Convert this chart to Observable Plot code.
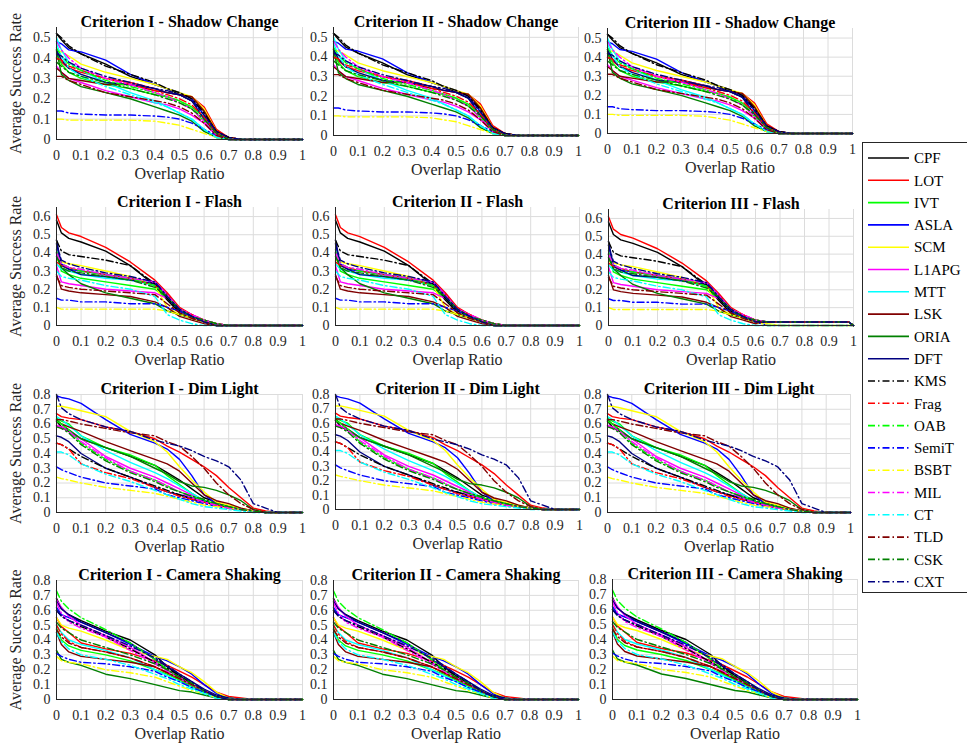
<!DOCTYPE html>
<html><head><meta charset="utf-8">
<script src="https://cdn.jsdelivr.net/npm/d3@7"></script>
<script src="https://cdn.jsdelivr.net/npm/@observablehq/plot@0.6"></script>
<style>
body{margin:0;background:#fff;overflow:hidden}
#chart{position:relative;width:967px;height:747px;overflow:hidden;background:#fff;font-family:"Liberation Serif",serif}
#chart svg text{font-family:"Liberation Serif",serif}
#legend{position:absolute;left:862px;top:142px;width:120px;height:451px;border:1px solid #262626;background:#fff;box-sizing:border-box}
</style></head><body><div id="chart"></div>
<script>
// ---------- data ----------
const trackers = ["CPF","LOT","IVT","ASLA","SCM","L1APG","MTT","LSK","ORIA","DFT",
                  "KMS","Frag","OAB","SemiT","BSBT","MIL","CT","TLD","CSK","CXT"];
const trackerColors = ["#000000","#ff0000","#00ff00","#0000ff","#ffff00","#ff00ff","#00ffff","#800000","#008000","#000080",
                       "#000000","#ff0000","#00ff00","#0000ff","#ffff00","#ff00ff","#00ffff","#800000","#008000","#000080"];
const dashDot = [false,false,false,false,false,false,false,false,false,false,
                 true,true,true,true,true,true,true,true,true,true];
const overlapX = [0,0.02,0.05,0.1,0.2,0.3,0.4,0.45,0.5,0.55,0.6,0.65,0.7,0.75,0.8,0.85,0.9,1];
const scenarios = ["Shadow Change","Flash","Dim Light","Camera Shaking"];
const criteria = ["I","II","III"];
const xTicks = [0,0.1,0.2,0.3,0.4,0.5,0.6,0.7,0.8,0.9,1];
const yTicksShadow = [0,0.1,0.2,0.3,0.4,0.5];
const yTicksFlash = [0,0.1,0.2,0.3,0.4,0.5,0.6];
const yTicksDim = [0,0.1,0.2,0.3,0.4,0.5,0.6,0.7,0.8];
const yTicksShake = [0,0.1,0.2,0.3,0.4,0.5,0.6,0.7,0.8];
const yMax = [0.55,0.65,0.8,0.8];

const shadowChange = [
 [.52,.49,.45,.42,.37,.31,.27,.25,.22,.19,.14,.04,.01,0,0,0,0,0],
 [.40,.38,.35,.33,.30,.28,.25,.23,.22,.21,.16,.05,.01,0,0,0,0,0],
 [.43,.37,.33,.30,.27,.25,.22,.21,.19,.16,.11,.03,0,0,0,0,0,0],
 [.48,.47,.44,.43,.39,.32,.27,.25,.23,.20,.12,.03,0,0,0,0,0,0],
 [.44,.43,.41,.37,.33,.30,.27,.25,.23,.21,.15,.04,0,0,0,0,0,0],
 [.36,.33,.30,.28,.24,.21,.18,.17,.15,.12,.08,.02,0,0,0,0,0,0],
 [.50,.44,.38,.34,.28,.23,.19,.16,.13,.10,.05,.01,0,0,0,0,0,0],
 [.35,.33,.30,.29,.27,.27,.24,.23,.22,.21,.14,.04,.01,0,0,0,0,0],
 [.44,.32,.29,.26,.23,.20,.16,.14,.12,.09,.04,.01,0,0,0,0,0,0],
 [.44,.39,.35,.32,.28,.27,.25,.23,.22,.19,.10,.03,0,0,0,0,0,0],
 [.52,.50,.46,.42,.36,.32,.28,.25,.23,.20,.13,.04,.01,0,0,0,0,0],
 [.40,.39,.36,.34,.30,.27,.24,.22,.20,.17,.11,.03,0,0,0,0,0,0],
 [.45,.41,.37,.34,.29,.26,.23,.21,.19,.15,.09,.02,0,0,0,0,0,0],
 [.14,.14,.13,.125,.12,.12,.115,.11,.10,.08,.05,.02,0,0,0,0,0,0],
 [.10,.10,.095,.095,.095,.095,.09,.08,.07,.05,.03,.01,0,0,0,0,0,0],
 [.48,.44,.40,.35,.30,.27,.23,.21,.18,.15,.09,.02,0,0,0,0,0,0],
 [.47,.41,.35,.31,.26,.22,.18,.16,.13,.10,.05,.01,0,0,0,0,0,0],
 [.31,.31,.29,.27,.23,.21,.19,.18,.16,.13,.08,.02,0,0,0,0,0,0],
 [.38,.36,.33,.31,.28,.25,.22,.20,.18,.15,.10,.03,0,0,0,0,0,0],
 [.42,.41,.38,.35,.31,.28,.25,.24,.22,.19,.12,.04,.01,0,0,0,0,0]
];
const flash = [
 [.58,.51,.48,.46,.41,.33,.22,.14,.07,.04,.02,0,0,0,0,0,0,0],
 [.61,.54,.51,.49,.43,.35,.25,.18,.10,.06,.03,.01,0,0,0,0,0,0],
 [.42,.30,.28,.26,.24,.22,.20,.15,.08,.05,.03,.01,0,0,0,0,0,0],
 [.45,.34,.31,.30,.28,.26,.24,.17,.09,.05,.03,.01,0,0,0,0,0,0],
 [.36,.35,.34,.33,.30,.27,.22,.10,.06,.05,.03,.01,0,0,0,0,0,0],
 [.33,.24,.23,.22,.20,.19,.18,.15,.09,.06,.03,.01,0,0,0,0,0,0],
 [.34,.31,.30,.28,.26,.25,.22,.16,.08,.05,.02,0,0,0,0,0,0,0],
 [.28,.20,.19,.18,.17,.16,.13,.10,.05,.03,.01,0,0,0,0,0,0,0],
 [.40,.32,.28,.23,.18,.15,.12,.08,.06,.04,.02,0,0,0,0,0,0,0],
 [.47,.33,.31,.28,.27,.25,.23,.15,.08,.05,.02,0,0,0,0,0,0,0],
 [.47,.41,.39,.38,.36,.33,.23,.15,.08,.05,.02,0,0,0,0,0,0,0],
 [.35,.33,.32,.30,.28,.26,.22,.17,.09,.06,.03,.01,0,0,0,0,0,0],
 [.40,.34,.32,.30,.28,.26,.22,.16,.09,.05,.03,.01,0,0,0,0,0,0],
 [.15,.14,.14,.13,.13,.12,.12,.10,.08,.05,.02,0,0,0,0,0,0,0],
 [.10,.09,.09,.09,.09,.09,.09,.08,.06,.04,.02,0,0,0,0,0,0,0],
 [.40,.34,.32,.31,.28,.26,.24,.17,.09,.06,.03,.01,0,0,0,0,0,0],
 [.30,.27,.26,.25,.22,.20,.16,.06,.03,.01,0,0,0,0,0,0,0,0],
 [.27,.22,.21,.20,.19,.18,.17,.12,.07,.04,.02,0,0,0,0,0,0,0],
 [.38,.32,.30,.29,.27,.25,.21,.16,.09,.05,.03,.01,0,0,0,0,0,0],
 [.45,.36,.34,.32,.29,.27,.24,.16,.09,.05,.02,0,0,0,0,0,0,0]
];
// Criterion III - Flash: plateau level kept up to ~0.98
const flashTailIII = [.02,.02,.02,.02,0,.02,.02,.02,.02,.02,.02,.02,.02,0,0,.02,0,.02,.02,.02];
const dimLight = [
 [.62,.58,.55,.50,.44,.38,.32,.27,.22,.16,.10,.07,.04,.02,.01,0,0,0],
 [.67,.65,.64,.63,.58,.55,.50,.45,.41,.36,.31,.25,.17,.10,.03,.01,0,0],
 [.64,.62,.60,.52,.44,.39,.32,.25,.19,.13,.08,.05,.03,.02,.01,0,0,0],
 [.79,.78,.77,.74,.63,.53,.47,.43,.36,.25,.12,.06,.04,.02,.01,0,0,0],
 [.72,.72,.71,.69,.65,.55,.48,.41,.31,.22,.14,.07,.05,.03,.01,0,0,0],
 [.59,.58,.56,.50,.38,.30,.24,.20,.16,.12,.08,.05,.03,.02,.01,0,0,0],
 [.65,.63,.59,.52,.42,.34,.27,.23,.18,.13,.08,.05,.03,.02,.01,0,0,0],
 [.62,.60,.58,.55,.48,.42,.36,.33,.28,.20,.12,.08,.06,.03,.01,0,0,0],
 [.63,.60,.56,.50,.44,.38,.30,.26,.21,.18,.17,.15,.12,.08,.02,0,0,0],
 [.52,.51,.48,.40,.30,.24,.17,.14,.12,.10,.08,.05,.03,.02,.01,0,0,0],
 [.47,.46,.43,.38,.30,.24,.18,.15,.12,.09,.07,.05,.03,.02,.01,0,0,0],
 [.47,.46,.43,.33,.27,.23,.17,.14,.11,.09,.07,.05,.03,.02,.01,0,0,0],
 [.62,.60,.56,.47,.36,.28,.22,.18,.14,.11,.08,.06,.04,.02,.01,0,0,0],
 [.31,.29,.27,.24,.20,.18,.16,.12,.10,.08,.06,.04,.03,.02,.01,0,0,0],
 [.24,.23,.22,.20,.17,.15,.13,.11,.09,.07,.05,.04,.03,.02,.01,0,0,0],
 [.59,.57,.55,.48,.37,.28,.22,.18,.14,.10,.07,.05,.03,.02,.01,0,0,0],
 [.41,.41,.39,.33,.26,.21,.15,.12,.09,.06,.04,.03,.02,.01,0,0,0,0],
 [.63,.63,.62,.60,.57,.54,.52,.48,.45,.38,.30,.20,.12,.06,.02,0,0,0],
 [.58,.57,.54,.46,.35,.27,.21,.17,.14,.11,.09,.06,.04,.02,.01,0,0,0],
 [.80,.71,.67,.63,.58,.55,.49,.47,.45,.42,.38,.35,.31,.22,.06,.03,0,0]
];
const cameraShaking = [
 [.68,.61,.57,.53,.46,.40,.30,.22,.16,.10,.05,.02,.01,0,0,0,0,0],
 [.55,.49,.45,.38,.34,.31,.26,.23,.19,.15,.10,.05,.02,.01,0,0,0,0],
 [.48,.40,.36,.33,.30,.26,.20,.17,.13,.09,.05,.02,.01,0,0,0,0,0],
 [.62,.57,.55,.52,.45,.37,.29,.26,.22,.17,.10,.04,.01,0,0,0,0,0],
 [.55,.50,.48,.46,.40,.33,.29,.27,.22,.18,.12,.05,.01,0,0,0,0,0],
 [.67,.62,.56,.50,.43,.35,.25,.20,.15,.10,.06,.02,0,0,0,0,0,0],
 [.50,.45,.40,.37,.33,.28,.20,.16,.12,.08,.04,.01,0,0,0,0,0,0],
 [.45,.37,.32,.29,.27,.25,.22,.18,.14,.10,.06,.02,0,0,0,0,0,0],
 [.33,.27,.25,.23,.17,.14,.10,.08,.06,.05,.03,.01,0,0,0,0,0,0],
 [.66,.61,.57,.52,.45,.38,.27,.22,.17,.12,.07,.03,.01,0,0,0,0,0],
 [.60,.56,.53,.49,.42,.34,.25,.21,.16,.11,.06,.02,0,0,0,0,0,0],
 [.50,.44,.39,.35,.32,.28,.22,.18,.14,.10,.06,.02,0,0,0,0,0,0],
 [.73,.66,.61,.55,.47,.38,.27,.20,.14,.10,.05,.02,0,0,0,0,0,0],
 [.31,.29,.27,.25,.24,.22,.19,.15,.12,.08,.05,.02,0,0,0,0,0,0],
 [.29,.26,.25,.24,.20,.18,.15,.12,.09,.06,.04,.01,0,0,0,0,0,0],
 [.65,.58,.52,.48,.42,.33,.24,.19,.14,.10,.06,.02,0,0,0,0,0,0],
 [.45,.39,.34,.30,.27,.23,.17,.14,.10,.07,.04,.01,0,0,0,0,0,0],
 [.47,.42,.38,.35,.32,.28,.22,.18,.14,.10,.06,.02,0,0,0,0,0,0],
 [.52,.48,.45,.40,.35,.30,.24,.20,.15,.11,.06,.02,0,0,0,0,0,0],
 [.60,.56,.53,.50,.43,.36,.28,.23,.17,.12,.06,.02,0,0,0,0,0,0]
];

// ---------- layout ----------
const panelLeft  = [[56,333,607],[56,335,608],[56,335,607],[56,333,612]];
const panelRight = [[302,578,852],[302,579,853],[302,579,850],[302,578,857]];
const panelTop   = [[27,27,28],[207,207,209],[394,394,394],[580,580,579]];
const panelBot   = [[139,135,133],[325,325,325],[512,509,512],[699,699,699]];
const ML = 56, MR = 14, MT = 30, MB = 48;
const DASH = "7,3,1.5,3";
const INK = "#262626";
const FONT = "Liberation Serif, Times New Roman, serif";

const chart = document.getElementById("chart");
const datasets = [shadowChange, flash, dimLight, cameraShaking];
const yTicksAll = [yTicksShadow, yTicksFlash, yTicksDim, yTicksShake];
const fmt = d => String(+d.toFixed(2));

scenarios.forEach((scen, r) => {
  criteria.forEach((crit, c) => {
    const L = panelLeft[r][c], R = panelRight[r][c], T = panelTop[r][c], B = panelBot[r][c];
    const marks = [
      Plot.gridX(xTicks, {stroke: "#dcdcdc", strokeOpacity: 1, strokeWidth: 1}),
      Plot.gridY(yTicksAll[r], {stroke: "#dcdcdc", strokeOpacity: 1, strokeWidth: 1})
    ];
    trackers.forEach((t, i) => {
      let pts = overlapX.map((x, j) => ({x, y: datasets[r][i][j]}));
      if (r === 1 && c === 2) {
        const tail = flashTailIII[i];
        pts = pts.filter(p => p.x < 1).map(p => ({x: p.x, y: p.x >= 0.65 ? Math.max(p.y, tail) : p.y}));
        pts.push({x: 0.98, y: tail}, {x: 1, y: 0});
      }
      marks.push(Plot.line(pts, {x: "x", y: "y", stroke: trackerColors[i], strokeWidth: 1.4,
        strokeDasharray: dashDot[i] ? DASH : null, strokeLinejoin: "round"}));
    });
    marks.push(
      Plot.ruleX([0], {stroke: INK, strokeWidth: 1}),
      Plot.ruleY([0], {stroke: INK, strokeWidth: 1}),
      Plot.axisX(xTicks, {tickSize: 0, tickPadding: 11, tickFormat: fmt, fontSize: 14, fontFamily: FONT, fill: INK, label: null}),
      Plot.axisY(yTicksAll[r], {tickSize: 0, tickPadding: 6, tickFormat: fmt, fontSize: 14, fontFamily: FONT, fill: INK, label: null}),
      Plot.text([`Criterion ${crit} - ${scen}`], {frameAnchor: "top", dy: -12, fontSize: 16, fontWeight: "bold", fontFamily: FONT, fill: "#000"}),
      Plot.text(["Overlap Ratio"], {frameAnchor: "bottom", dy: 39, fontSize: 16, fontFamily: FONT, fill: INK})
    );
    if (c === 0) {
      marks.push(Plot.text(["Average Success Rate"], {frameAnchor: "left", dx: -41, rotate: -90, textAnchor: "middle",
        fontSize: 16, fontFamily: FONT, fill: INK}));
    }
    const svg = Plot.plot({
      width: R - L + ML + MR, height: B - T + MT + MB,
      marginLeft: ML, marginRight: MR, marginTop: MT, marginBottom: MB,
      x: {domain: [0, 1], label: null},
      y: {domain: [0, yMax[r]], label: null},
      style: {fontFamily: FONT, fontSize: "14px", color: INK, background: "transparent", overflow: "visible"},
      marks
    });
    svg.style.position = "absolute";
    svg.style.left = (L - ML) + "px";
    svg.style.top = (T - MT) + "px";
    svg.style.maxWidth = "none";
    chart.appendChild(svg);
  });
});

// ---------- legend ----------
const legend = document.createElement("div");
legend.id = "legend";
chart.appendChild(legend);
const lsvg = d3.select(legend).append("svg").attr("width", 118).attr("height", 449)
  .style("font-family", FONT).style("font-size", "15px");
trackers.forEach((t, i) => {
  const y = 15 + i * 22.3;
  lsvg.append("line").attr("x1", 5).attr("x2", 46).attr("y1", y).attr("y2", y)
    .attr("stroke", trackerColors[i]).attr("stroke-width", 1.6)
    .attr("stroke-dasharray", dashDot[i] ? DASH : null);
  lsvg.append("text").attr("x", 51).attr("y", y).attr("dy", "0.35em").attr("fill", "#000").text(t);
});
</script></body></html>
